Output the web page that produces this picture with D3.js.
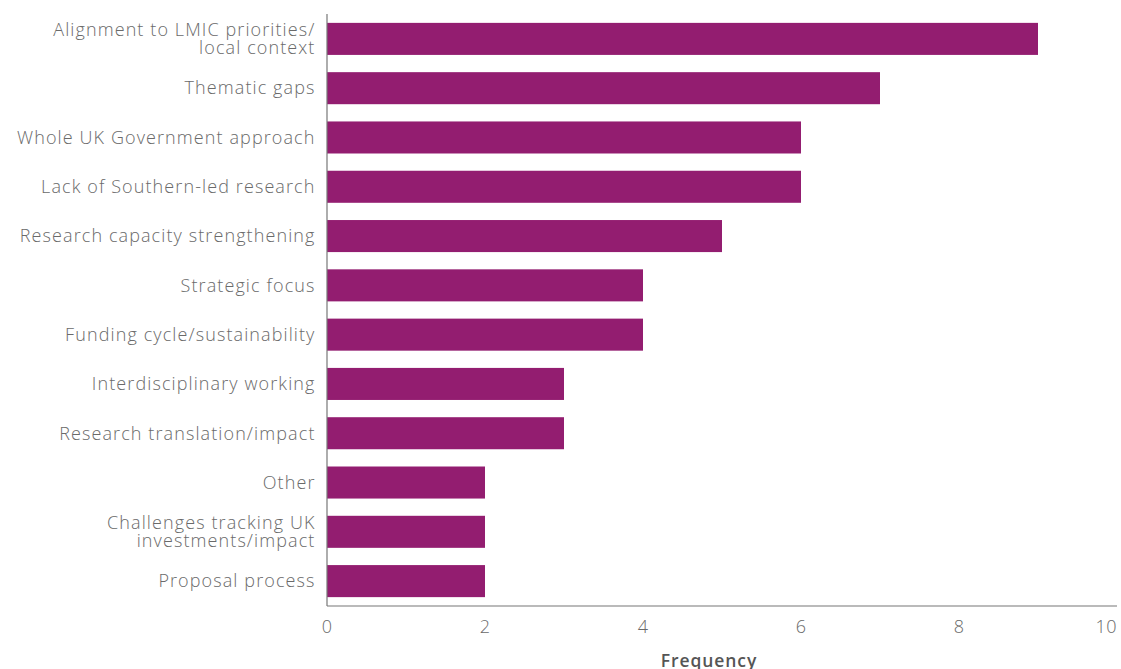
<!DOCTYPE html>
<html><head><meta charset="utf-8">
<script src="https://cdn.jsdelivr.net/npm/d3@7"></script>
<style>
body{margin:0;background:#fff;}
text{font-family:"Open Sans",Lato,sans-serif;}
</style></head>
<body><svg id="c" width="1121" height="669"></svg>
<script>
const categories = [
  ["Alignment to LMIC priorities/","local context"],
  ["Thematic gaps"],
  ["Whole UK Government approach"],
  ["Lack of Southern-led research"],
  ["Research capacity strengthening"],
  ["Strategic focus"],
  ["Funding cycle/sustainability"],
  ["Interdisciplinary working"],
  ["Research translation/impact"],
  ["Other"],
  ["Challenges tracking UK","investments/impact"],
  ["Proposal process"]
];
const values = [9,7,6,6,5,4,4,3,3,2,2,2];
const xTicks = [0,2,4,6,8,10];
const xTitle = "Frequency";

(function(){
const svg = d3.select("#c");
const L = 327, R = 1117, T = 14, B = 606;
const x = d3.scaleLinear().domain([0,10]).range([L,R]);
const y = d3.scaleBand().domain(d3.range(categories.length)).range([T, B]).paddingInner(0.35).paddingOuter(0.18);

svg.selectAll("rect.bar").data(values).join("rect")
  .attr("class","bar")
  .attr("x", x(0)).attr("y",(d,i)=>y(i))
  .attr("width", d=>x(d)-x(0)).attr("height", y.bandwidth())
  .attr("fill","#931D70");

svg.append("line").attr("x1",L).attr("x2",L).attr("y1",T).attr("y2",B)
  .attr("stroke","#777").attr("stroke-width",1.2);
svg.append("line").attr("x1",L).attr("x2",R).attr("y1",B).attr("y2",B)
  .attr("stroke","#777").attr("stroke-width",1.2);

svg.selectAll("text.xt").data(xTicks).join("text")
  .attr("class","xt")
  .attr("x", d=>x(d))
  .attr("y", 633)
  .attr("text-anchor",(d,i)=> i===xTicks.length-1 ? "end" : "middle")
  .attr("font-size",18).attr("font-weight",300).attr("fill","#6a6a6a")
  .attr("letter-spacing",(d,i)=> i===xTicks.length-1 ? 0.5 : 0)
  .text(d=>d);

svg.append("text").attr("x",709).attr("y",667).attr("text-anchor","middle")
  .attr("font-size",17.5).attr("font-weight",600).attr("fill","#555")
  .attr("letter-spacing",0.9).text(xTitle);

const g = svg.selectAll("text.cat").data(categories).join("text")
  .attr("class","cat")
  .attr("text-anchor","end")
  .attr("font-size",18).attr("font-weight",300).attr("fill","#6a6a6a")
  .attr("letter-spacing",1.1);
g.each(function(lines,i){
  const cy = y(i)+y.bandwidth()/2;
  const lh = 18.5;
  const t = d3.select(this);
  lines.forEach((l,k)=>{
    t.append("tspan").attr("x",315.5)
      .attr("y", cy + (k-(lines.length-1)/2)*lh)
      .attr("dy","0.35em").text(l);
  });
});
})();
</script></body></html>
